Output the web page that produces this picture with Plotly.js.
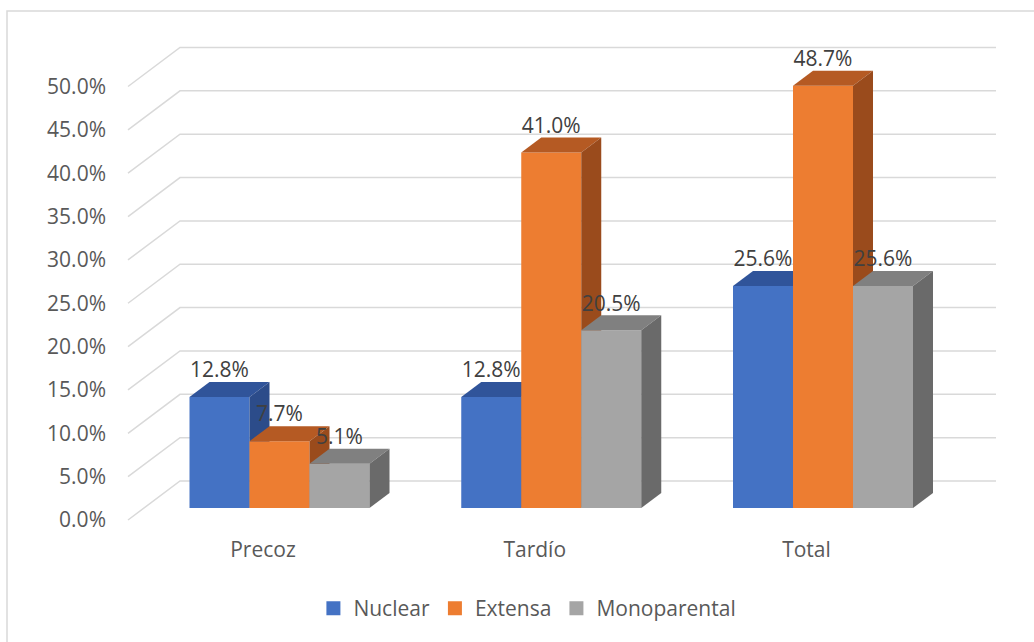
<!DOCTYPE html>
<html>
<head>
<meta charset="utf-8">
<script src="https://cdn.plot.ly/plotly-3.0.1.min.js"></script>
<style>html,body{margin:0;padding:0;background:#fff;}#chart{width:1034px;height:642px;}</style>
</head>
<body>
<div id="chart"></div>
<script>
// ---- data ----
const categories = ['Precoz', 'Tardío', 'Total'];
const nuclear = [12.8, 12.8, 25.6];
const extensa = [7.7, 41.0, 48.7];
const monoparental = [5.1, 20.5, 25.6];
const seriesNames = ['Nuclear', 'Extensa', 'Monoparental'];
const yTickValues = [0, 5, 10, 15, 20, 25, 30, 35, 40, 45, 50];

// ---- geometry / style constants (pixels) ----
const W = 1034, H = 642;
const L = 110, R = 1000, T = 30, B = 530;
const PXY = 8.67;         // pixels per percentage point
const PXX = 271.75;       // pixels per category step
const ZERO_PY = 508;      // pixel y of 0 on bar front plane
const CAT0_PX = 279.5;    // pixel x of first group centre
const BAR_W = 60, DEPTH_DX = 20, DEPTH_DY = 15;
const AXIS_FRONT_PX = 128, AXIS_FRONT_DY = 12;  // front axis plane (below bar plane)
const WALL_X0 = 180, WALL_X1 = 996, WALL_DY = 27;

const px2x = p => (p - CAT0_PX) / PXX;
const dxU = d => d / PXX;
const dyU = d => d / PXY;

const frontColors = ['#4472C4', '#ED7D31', '#A5A5A5'];
const topColors   = ['#30549A', '#B55A23', '#808080'];
const sideColors  = ['#2C4C8A', '#9A4B1C', '#6A6A6A'];
const allSeries = [nuclear, extensa, monoparental];

const traces = [];

// gridlines (front diagonal + back wall)
const gx = [], gy = [];
yTickValues.forEach(v => {
  gx.push(px2x(AXIS_FRONT_PX), px2x(WALL_X0), px2x(WALL_X1), null);
  gy.push(v - dyU(AXIS_FRONT_DY), v + dyU(WALL_DY), v + dyU(WALL_DY), null);
});
traces.push({type: 'scatter', mode: 'lines', x: gx, y: gy, line: {color: '#D9D9D9', width: 1.5},
  hoverinfo: 'skip', showlegend: false});

const bw = dxU(BAR_W), ddx = dxU(DEPTH_DX), ddy = dyU(DEPTH_DY);
const poly = (xs, ys, color) => ({type: 'scatter', mode: 'lines', x: xs, y: ys, fill: 'toself',
  fillcolor: color, line: {width: 0, color: color}, hoverinfo: 'skip', showlegend: false});

const labelX = [], labelY = [], labelT = [];
categories.forEach((c, ci) => {
  allSeries.forEach((vals, si) => {
    const h = vals[ci];
    const xl = ci + (si - 1.5) * bw, xr = xl + bw;
    // front
    traces.push(poly([xl, xr, xr, xl, xl], [0, 0, h, h, 0], frontColors[si]));
    // top
    traces.push(poly([xl, xr, xr + ddx, xl + ddx, xl], [h, h, h + ddy, h + ddy, h], topColors[si]));
    // side
    traces.push(poly([xr, xr + ddx, xr + ddx, xr, xr], [0, ddy, h + ddy, h, 0], sideColors[si]));
    labelX.push(xl + bw / 2);
    labelY.push(h + dyU(25));
    labelT.push(h.toFixed(1) + '%');
  });
});

// data labels
traces.push({type: 'scatter', mode: 'text', x: labelX, y: labelY, text: labelT,
  textposition: 'middle center', textfont: {family: 'Open Sans, sans-serif', size: 21, color: '#404040'},
  hoverinfo: 'skip', showlegend: false, cliponaxis: false});

// legend entries
seriesNames.forEach((n, si) => {
  traces.push({type: 'scatter', mode: 'markers', x: [null], y: [null], name: n,
    marker: {symbol: 'square', size: 14, color: frontColors[si]}});
});

const layout = {
  width: W, height: H,
  margin: {l: L, r: W - R, t: T, b: H - B},
  paper_bgcolor: '#fff', plot_bgcolor: 'rgba(0,0,0,0)',
  font: {family: 'Open Sans, sans-serif', size: 21, color: '#595959'},
  showlegend: true,
  legend: {orientation: 'h', x: 0.469, xref: 'paper', xanchor: 'center', y: -0.157, yanchor: 'middle',
    font: {size: 21, color: '#595959'}, itemclick: false, traceorder: 'normal'},
  xaxis: {range: [px2x(L), px2x(R)], showgrid: false, zeroline: false, showline: false,
    tickmode: 'array', tickvals: categories.map((c, i) => i - dxU(16.5)), ticktext: categories,
    ticks: '', ticklabelstandoff: 5, fixedrange: true},
  yaxis: {range: [(ZERO_PY - B) / PXY, (ZERO_PY - T) / PXY], showgrid: false, zeroline: false, showline: false,
    tickmode: 'array', tickvals: yTickValues.map(v => v - dyU(AXIS_FRONT_DY)),
    ticktext: yTickValues.map(v => v.toFixed(1) + '%'), ticks: '', ticklabelstandoff: 3, fixedrange: true},
  shapes: [{type: 'rect', xref: 'paper', yref: 'paper',
    x0: (7 - L) / (R - L), x1: (W + 10 - L) / (R - L),
    y0: (B - (H + 10)) / (B - T), y1: (B - 11) / (B - T),
    line: {color: '#D9D9D9', width: 1.5}, fillcolor: 'rgba(0,0,0,0)', layer: 'below'}]
};

Plotly.newPlot('chart', traces, layout, {displayModeBar: false, staticPlot: true});
</script>
</body>
</html>
